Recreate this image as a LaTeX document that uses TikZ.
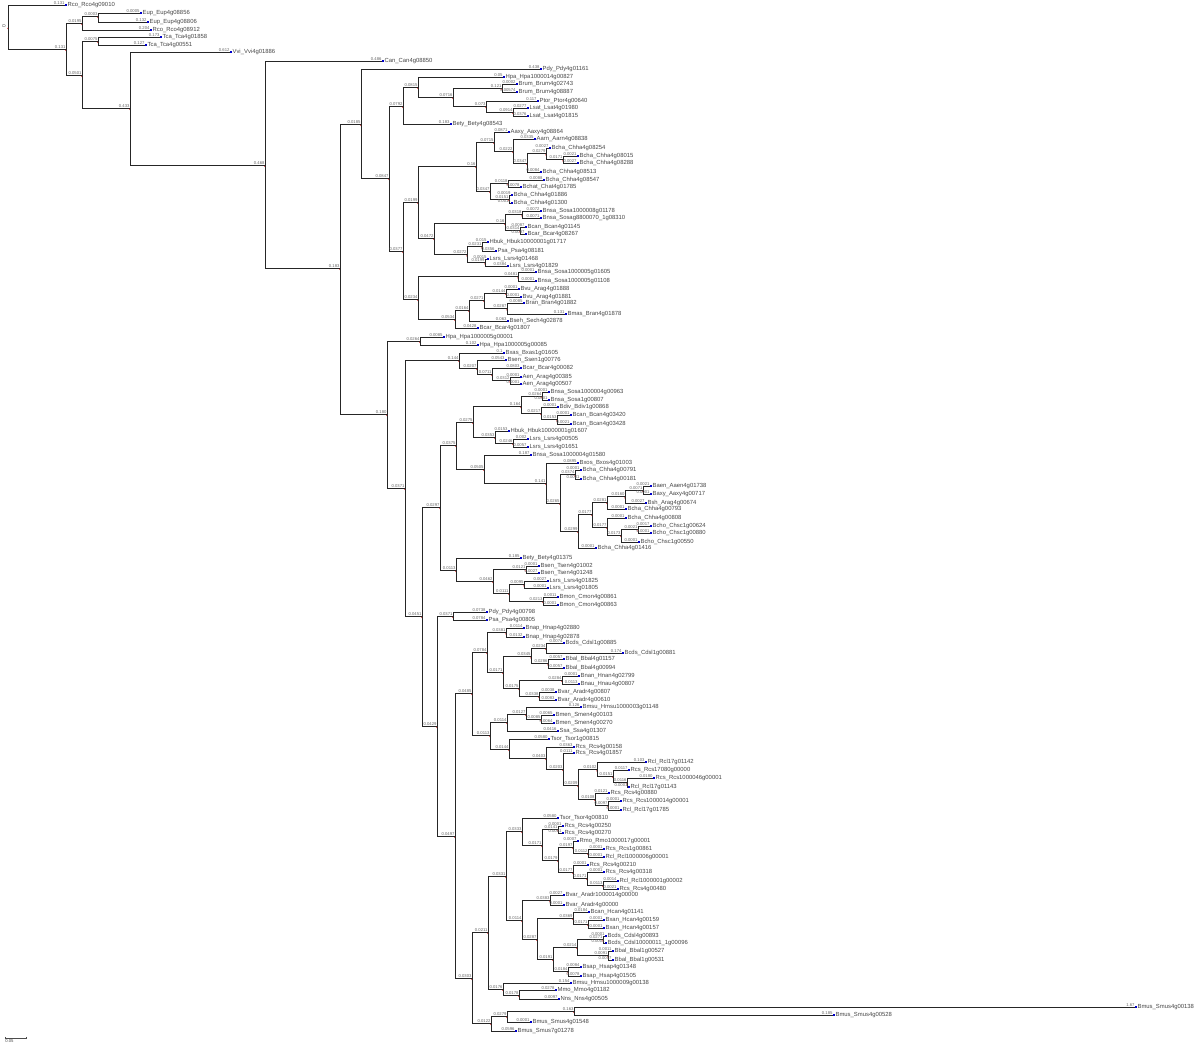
\documentclass[tikz,border=0pt]{standalone}
\usepackage{fontspec}
\setmainfont{Liberation Sans}
\tikzset{
  br/.style={line width=0.7pt,black!85},
  blen/.style={anchor=south east,inner sep=0.2pt,yshift=0.1pt,font=\fontsize{4.2}{4.4}\selectfont,text=black!60},
  lbl/.style={anchor=west,inner sep=0.2pt,xshift=2.2pt,font=\fontsize{5.9}{6.4}\selectfont,text=black!72},
  innode/.style={fill=red!85!black},
  leafmk/.style={fill=blue!80!black},
}
% internal node: parent, name, x, y, branch length
\newcommand\TrIn[5]{%
  \coordinate (#2) at (#3,#4);
  \draw[br] (#1) |- (#2) node[blen]{#5};
  \fill[innode] (#2) ++(0,1.3) circle[radius=0.75pt];
}
% leaf: parent, name, x, y, branch length, text
\newcommand\TrLf[6]{%
  \coordinate (#2) at (#3,#4);
  \draw[br] (#1) |- (#2) node[blen]{#5};
  \fill[leafmk] (#2) ++(0.2,-0.8) rectangle ++(1.6,1.6);
  \node[lbl] (#2t) at (#2) {\detokenize{#6}};
}
\begin{document}
\begin{tikzpicture}[x=1pt,y=-1pt]
\useasboundingbox (0,0) rectangle (1200,1048);
\coordinate (r) at (8,27);
\fill[innode] (r) ++(0,1.3) circle[radius=0.75pt];
\node[rotate=90,inner sep=0.2pt,font=\fontsize{5}{5}\selectfont,text=black!70] (r0) at (4,26) {0};
\TrLf{r}{L1}{65}{5}{0.131}{Rco_Rco4g09010}
\TrIn{r}{n66}{66}{49}{0.131}
\TrIn{n66}{n82a}{82}{23}{0.0195}
\TrIn{n82a}{n98a}{98}{16}{0.0003}
\TrLf{n98a}{L2}{140}{13}{0.0005}{Eup_Eup4g08856}
\TrLf{n98a}{L3}{147}{22}{0.132}{Eup_Eup4g08806}
\TrLf{n82a}{L4}{150}{30}{0.204}{Rco_Rco4g08912}
\TrIn{n66}{n82b}{82}{75}{0.0501}
\TrIn{n82b}{n98b}{98}{41}{0.0075}
\TrLf{n98b}{L5}{160}{37}{0.173}{Tca_Tca4g01858}
\TrLf{n98b}{L6}{145}{45}{0.127}{Tca_Tca4g00551}
\TrIn{n82b}{n130}{130}{108}{0.433}
\TrLf{n130}{L7}{230}{52}{0.612}{Vvi_Vvi4g01886}
\TrIn{n130}{n265}{265}{165}{0.468}
\TrLf{n265}{L8}{382}{61}{0.486}{Can_Can4g08850}
\TrIn{n265}{n340}{340}{268}{0.183}
\TrIn{n340}{n361}{361}{124}{0.0185}
\TrLf{n361}{L9}{540}{69}{0.438}{Pdy_Pdy4g01161}
\TrIn{n361}{n389}{389}{178}{0.0847}
\TrIn{n389}{n403}{403}{106}{0.0792}
\TrIn{n403}{n418}{418}{87}{0.0815}
\TrLf{n418}{L10}{503}{77}{0.05}{Hpa_Hpa1000014g00827}
\TrIn{n418}{n453}{453}{97}{0.0716}
\TrIn{n453}{n502}{502}{88}{0.121}
\TrLf{n502}{L11}{516}{84}{0.0002}{Brum_Brum4g02743}
\TrLf{n502}{L12}{516}{92}{0.00574}{Brum_Brum4g08887}
\TrIn{n453}{n486}{486}{106}{0.073}
\TrLf{n486}{L13}{537}{101}{0.117}{Ptor_Ptor4g00640}
\TrIn{n486}{n513}{513}{112}{0.0914}
\TrLf{n513}{L14}{527}{108}{0.0277}{Lsat_Lsat4g01980}
\TrLf{n513}{L15}{527}{116}{0.0376}{Lsat_Lsat4g01815}
\TrLf{n403}{L16}{450}{124}{0.183}{Bety_Bety4g08543}
\TrIn{n389}{n403b}{403}{251}{0.0377}
\TrIn{n403b}{n418b}{418}{202}{0.0199}
\TrIn{n418b}{n476}{476}{166}{0.16}
\TrIn{n476}{n494}{494}{142}{0.0715}
\TrLf{n494}{L17}{508}{132}{0.0871}{Aaxy_Aaxy4g08864}
\TrIn{n494}{n513b}{513}{151}{0.0222}
\TrLf{n513b}{L18}{534}{139}{0.0335}{Aarn_Aarn4g08838}
\TrIn{n513b}{n527}{527}{163}{0.0347}
\TrIn{n527}{n546}{546}{153.5}{0.0279}
\TrLf{n546}{L19}{549}{148}{0.0027}{Bcha_Chha4g08254}
\TrIn{n546}{n563}{563}{159.5}{0.0171}
\TrLf{n563}{L20}{577}{156}{0.0021}{Bcha_Chha4g08015}
\TrLf{n563}{L21}{577}{163}{0.0027}{Bcha_Chha4g08288}
\TrLf{n527}{L22}{540}{172}{0.0084}{Bcha_Chha4g08513}
\TrIn{n476}{n490}{490}{191}{0.0347}
\TrIn{n490}{n508}{508}{183}{0.0118}
\TrLf{n508}{L23}{543}{180}{0.0088}{Bcha_Chha4g08547}
\TrLf{n508}{L24}{520}{187}{0.0078}{Bchat_Chat4g01785}
\TrIn{n490}{n509}{509}{199}{0.0151}
\TrLf{n509}{L25}{511}{195}{0.0019}{Bcha_Chha4g01886}
\TrLf{n509}{L26}{511}{203}{0.0011}{Bcha_Chha4g01300}
\TrIn{n418b}{n434}{434}{238}{0.0472}
\TrIn{n434}{n505}{505}{223}{0.16}
\TrIn{n505}{n522}{522}{214.5}{0.0318}
\TrLf{n522}{L27}{540}{211}{0.0072}{Bnsa_Sosa1000008g01178}
\TrLf{n522}{L28}{540}{218}{0.0071}{Bnsa_Sosag8800070_1g08310}
\TrIn{n505}{n520}{520}{230.5}{0.0314}
\TrLf{n520}{L29}{525}{227}{0.0087}{Bcan_Bcan4g01145}
\TrLf{n520}{L30}{525}{234}{0.0097}{Bcar_Bcar4g08267}
\TrIn{n434}{n467}{467}{254.5}{0.0272}
\TrIn{n467}{n482}{482}{246.5}{0.0231}
\TrLf{n482}{L31}{487}{242}{0.015}{Hbuk_Hbuk10000001g01717}
\TrLf{n482}{L32}{495}{251}{0.0356}{Psa_Psa4g08181}
\TrIn{n467}{n485}{485}{262.5}{0.0199}
\TrLf{n485}{L33}{487}{259}{0.0015}{Lsrs_Lsrs4g01468}
\TrLf{n485}{L34}{507}{266}{0.0384}{Lsrs_Lsrs4g01829}
\TrIn{n403b}{n418c}{418}{299}{0.0234}
\TrIn{n418c}{n518}{518}{276.5}{0.0481}
\TrLf{n518}{L35}{535}{272}{0.0001}{Bnsa_Sosa1000005g01605}
\TrLf{n518}{L36}{535}{281}{0.0001}{Bnsa_Sosa1000005g01108}
\TrIn{n418c}{n455}{455}{319}{0.0534}
\TrIn{n455}{n469}{469}{310}{0.0164}
\TrIn{n469}{n484}{484}{300}{0.0271}
\TrIn{n484}{n506}{506}{293}{0.0144}
\TrLf{n506}{L37}{518}{289}{0.0001}{Bvu_Arag4g01888}
\TrLf{n506}{L38}{520}{297}{0.0001}{Bvu_Arag4g01881}
\TrIn{n484}{n507}{507}{308.5}{0.0287}
\TrLf{n507}{L39}{523}{303}{0.0085}{Bran_Bran4g01882}
\TrLf{n507}{L40}{565}{314}{0.131}{Bmas_Bran4g01878}
\TrLf{n469}{L41}{507}{321}{0.063}{Bseh_Sech4g02878}
\TrLf{n455}{L42}{477}{328}{0.0428}{Bcar_Bcar4g01807}
\TrIn{n340}{n387}{387}{414}{0.180}
\TrIn{n387}{n420}{420}{341}{0.0264}
\TrLf{n420}{L43}{443}{337}{0.0085}{Hpa_Hpa1000005g00001}
\TrLf{n420}{L44}{477}{345}{0.102}{Hpa_Hpa1000005g00085}
\TrIn{n387}{n405}{405}{488}{0.0371}
\TrIn{n405}{n459}{459}{360}{0.144}
\TrLf{n459}{L45}{503}{353}{0.1}{Bxas_Bxas1g01605}
\TrIn{n459}{n477}{477}{368}{0.0207}
\TrLf{n477}{L46}{505}{360}{0.0543}{Bsen_Ssen1g00776}
\TrIn{n477}{n492}{492}{374}{0.0711}
\TrLf{n492}{L47}{520}{368}{0.0803}{Bcar_Bcar4g00082}
\TrIn{n492}{n510}{510}{380.5}{0.0312}
\TrLf{n510}{L48}{520}{377}{0.0001}{Aen_Arag4g00385}
\TrLf{n510}{L49}{520}{384}{0.0001}{Aen_Arag4g00507}
\TrIn{n405}{n422}{422}{616}{0.0451}
\TrIn{n422}{n440}{440}{507}{0.0297}
\TrIn{n440}{n456a}{456}{445}{0.0375}
\TrIn{n456a}{n473}{473}{422}{0.0275}
\TrIn{n473}{n521}{521}{406}{0.164}
\TrIn{n521}{n542}{542}{396}{0.0264}
\TrLf{n542}{L50}{548}{392}{0.0001}{Bnsa_Sosa1000004g00963}
\TrLf{n542}{L51}{548}{400}{0.0001}{Bnsa_Sosa1g00807}
\TrIn{n521}{n541}{541}{413}{0.0217}
\TrLf{n541}{L52}{557}{407}{0.0001}{Bdiv_Bdiv1g00868}
\TrIn{n541}{n557}{557}{419.5}{0.0153}
\TrLf{n557}{L53}{570}{415}{0.0001}{Bcan_Bcan4g03420}
\TrLf{n557}{L54}{570}{424}{0.0021}{Bcan_Bcan4g03428}
\TrIn{n473}{n495}{495}{437}{0.0353}
\TrLf{n495}{L55}{508}{431}{0.0153}{Hbuk_Hbuk10000001g01607}
\TrIn{n495}{n513c}{513}{443}{0.0246}
\TrLf{n513c}{L56}{527}{439}{0.002}{Lsrs_Lsrs4g00505}
\TrLf{n513c}{L57}{527}{447}{0.0057}{Lsrs_Lsrs4g01651}
\TrIn{n456a}{n484b}{484}{469}{0.0505}
\TrLf{n484b}{L58}{530}{455}{0.187}{Bnsa_Sosa1000004g01580}
\TrIn{n484b}{n546b}{546}{483}{0.141}
\TrLf{n546b}{L59}{577}{463}{0.0895}{Bxos_Bxos4g01003}
\TrIn{n546b}{n560}{560}{503}{0.0265}
\TrIn{n560}{n575}{575}{474.5}{0.0374}
\TrLf{n575}{L60}{580}{470}{0.0001}{Bcha_Chha4g00791}
\TrLf{n575}{L61}{580}{479}{0.0001}{Bcha_Chha4g00181}
\TrIn{n560}{n578}{578}{531}{0.0299}
\TrIn{n578}{n592}{592}{514}{0.0177}
\TrIn{n592}{n607}{607}{502}{0.0281}
\TrIn{n607}{n625}{625}{496.5}{0.0160}
\TrIn{n625}{n643}{643}{490}{0.0071}
\TrLf{n643}{L62}{650}{486}{0.0021}{Baen_Aaen4g01738}
\TrLf{n643}{L63}{650}{494}{0.0001}{Baxy_Aaxy4g00717}
\TrLf{n625}{L64}{645}{503}{0.0027}{Bsh_Arag4g00674}
\TrLf{n607}{L65}{625}{509}{0.0001}{Bcha_Chha4g00793}
\TrIn{n592}{n607b}{607}{527}{0.0177}
\TrLf{n607b}{L66}{625}{518}{0.0001}{Bcha_Chha4g00808}
\TrIn{n607b}{n621}{621}{535}{0.0173}
\TrIn{n621}{n638}{638}{529.5}{0.0021}
\TrLf{n638}{L67}{650}{526}{0.0017}{Bcho_Chsc1g00624}
\TrLf{n638}{L68}{650}{533}{0.0001}{Bcho_Chsc1g00880}
\TrLf{n621}{L69}{638}{542}{0.0001}{Bcho_Chsc1g00550}
\TrLf{n578}{L70}{595}{548}{0.0001}{Bcha_Chha4g01416}
\TrIn{n440}{n456b}{456}{570}{0.0113}
\TrLf{n456b}{L71}{520}{558}{0.185}{Bety_Bety4g01375}
\TrIn{n456b}{n493}{493}{581}{0.0462}
\TrIn{n493}{n526}{526}{569.5}{0.0121}
\TrLf{n526}{L72}{538}{566}{0.0001}{Bsen_Tsen4g01002}
\TrLf{n526}{L73}{538}{573}{0.0027}{Bsen_Tsen4g01248}
\TrIn{n493}{n509b}{509}{593}{0.0111}
\TrIn{n509b}{n524}{524}{584.5}{0.0095}
\TrLf{n524}{L74}{547}{581}{0.0027}{Lsrs_Lsrs4g01825}
\TrLf{n524}{L75}{547}{588}{0.0001}{Lsrs_Lsrs4g01805}
\TrIn{n509b}{n543}{543}{601}{0.0213}
\TrLf{n543}{L76}{557}{597}{0.0011}{Bmon_Cmon4g00861}
\TrLf{n543}{L77}{557}{605}{0.0001}{Bmon_Cmon4g00863}
\TrIn{n422}{n437}{437}{726}{0.0429}
\TrIn{n437}{n453b}{453}{616}{0.0371}
\TrLf{n453b}{L78}{486}{612}{0.0738}{Pdy_Pdy4g00798}
\TrLf{n453b}{L79}{486}{620}{0.0784}{Psa_Psa4g00805}
\TrIn{n437}{n455b}{455}{836}{0.0497}
\TrIn{n455b}{n472}{472}{693}{0.0485}
\TrIn{n472}{n487}{487}{652}{0.0784}
\TrIn{n487}{n506b}{506}{632.5}{0.0381}
\TrLf{n506b}{L80}{523}{628}{0.0114}{Bnap_Hnap4g02880}
\TrLf{n506b}{L81}{523}{637}{0.0132}{Bnap_Hnap4g02878}
\TrIn{n487}{n503}{503}{672}{0.0171}
\TrIn{n503}{n531}{531}{656.5}{0.0345}
\TrIn{n531}{n546c}{546}{648}{0.0234}
\TrLf{n546c}{L82}{563}{643}{0.0074}{Bcds_Cdsl1g00885}
\TrLf{n546c}{L83}{622}{653}{0.174}{Bcds_Cdsl1g00881}
\TrIn{n531}{n548}{548}{663.5}{0.0286}
\TrLf{n548}{L84}{563}{659}{0.0057}{Bbal_Bbal4g01157}
\TrLf{n548}{L85}{563}{668}{0.0057}{Bbal_Bbal4g00994}
\TrIn{n503}{n519}{519}{688}{0.0175}
\TrIn{n519}{n562}{562}{680}{0.0284}
\TrLf{n562}{L86}{578}{676}{0.0001}{Bnan_Hnan4g02799}
\TrLf{n562}{L87}{578}{684}{0.0113}{Bnau_Hnau4g00807}
\TrIn{n519}{n539}{539}{696}{0.0338}
\TrLf{n539}{L88}{555}{692}{0.0038}{Bvar_Aradr4g00807}
\TrLf{n539}{L89}{555}{700}{0.0083}{Bvar_Aradr4g00610}
\TrIn{n472}{n490b}{490}{735}{0.0113}
\TrIn{n490b}{n507b}{507}{722}{0.0114}
\TrIn{n507b}{n526b}{526}{714}{0.0127}
\TrLf{n526b}{L90}{580}{707}{0.126}{Bmsu_Hmsu1000003g01148}
\TrIn{n526b}{n541b}{541}{719}{0.0085}
\TrLf{n541b}{L91}{553}{715}{0.0065}{Bmen_Smen4g00103}
\TrLf{n541b}{L92}{553}{723}{0.0064}{Bmen_Smen4g00270}
\TrLf{n507b}{L93}{557}{731}{0.0416}{Ssa_Ssa4g01307}
\TrIn{n490b}{n509c}{509}{749}{0.0144}
\TrLf{n509c}{L94}{548}{739}{0.0580}{Tsor_Tsor1g00815}
\TrIn{n509c}{n546d}{546}{758}{0.0403}
\TrLf{n546d}{L95}{573}{747}{0.0363}{Rcs_Rcs4g00158}
\TrIn{n546d}{n563b}{563}{769}{0.0203}
\TrLf{n563b}{L96}{573}{753}{0.0111}{Rcs_Rcs4g01857}
\TrIn{n563b}{n578b}{578}{785}{0.0209}
\TrIn{n578b}{n597}{597}{769.5}{0.0102}
\TrLf{n597}{L97}{645}{762}{0.103}{Rcl_Rcl17g01142}
\TrIn{n597}{n613}{613}{776}{0.0151}
\TrLf{n613}{L98}{628}{770}{0.0117}{Rcs_Rcs17080g00000}
\TrIn{n613}{n627}{627}{782.5}{0.0116}
\TrLf{n627}{L99}{653}{778}{0.0180}{Rcs_Rcs1000046g00001}
\TrLf{n627}{L100}{628}{787}{0.0001}{Rcl_Rcl17g01143}
\TrIn{n578b}{n595}{595}{799}{0.0108}
\TrLf{n595}{L101}{608}{793}{0.0121}{Rcs_Rcs4g00880}
\TrIn{n595}{n608}{608}{805.5}{0.0097}
\TrLf{n608}{L102}{620}{801}{0.0001}{Rcs_Rcs1000014g00001}
\TrLf{n608}{L103}{620}{810}{0.0001}{Rcl_Rcl17g01785}
\TrIn{n455b}{n472b}{472}{978}{0.0303}
\TrIn{n472b}{n488}{488}{932}{0.0211}
\TrIn{n488}{n506c}{506}{876}{0.0331}
\TrIn{n506c}{n522a}{522}{831}{0.0333}
\TrLf{n522a}{L104}{557}{818}{0.0580}{Tsor_Tsor4g00810}
\TrIn{n522a}{n542x}{542}{845}{0.0171}
\TrIn{n542x}{n558a}{558}{829.5}{0.0141}
\TrLf{n558a}{L105}{562}{826}{0.0001}{Rcs_Rcs4g00250}
\TrLf{n558a}{L106}{562}{833}{0.0001}{Rcs_Rcs4g00270}
\TrIn{n542x}{n558b}{558}{860}{0.0179}
\TrIn{n558b}{n573a}{573}{847}{0.0197}
\TrLf{n573a}{L107}{577}{841}{0.0007}{Rmo_Rmo1000017g00001}
\TrIn{n573a}{n588a}{588}{853}{0.0112}
\TrLf{n588a}{L108}{603}{849}{0.0001}{Rcs_Rcs1g00861}
\TrLf{n588a}{L109}{603}{857}{0.0001}{Rcl_Rcl1000006g00001}
\TrIn{n558b}{n573b}{573}{872}{0.0177}
\TrLf{n573b}{L110}{587}{865}{0.0001}{Rcs_Rcs4g00210}
\TrIn{n573b}{n587}{587}{878}{0.0171}
\TrLf{n587}{L111}{603}{872}{0.0001}{Rcs_Rcs4g00318}
\TrIn{n587}{n603a}{603}{885}{0.0113}
\TrLf{n603a}{L112}{617}{881}{0.0014}{Rcl_Rcl1000001g00002}
\TrLf{n603a}{L113}{617}{889}{0.0021}{Rcs_Rcs4g00480}
\TrIn{n506c}{n522c}{522}{920}{0.0114}
\TrIn{n522c}{n550}{550}{900}{0.0383}
\TrLf{n550}{L114}{563}{895}{0.0027}{Bvar_Aradr1000014g00000}
\TrLf{n550}{L115}{563}{905}{0.0001}{Bvar_Aradr4g00000}
\TrIn{n522c}{n537}{537}{939}{0.0287}
\TrIn{n537}{n573c}{573}{918}{0.0369}
\TrLf{n573c}{L116}{588}{912}{0.0184}{Bcan_Hcan4g01141}
\TrIn{n573c}{n588b}{588}{924}{0.0171}
\TrLf{n588b}{L117}{603}{920}{0.0001}{Bxan_Hcan4g00159}
\TrLf{n588b}{L118}{603}{928}{0.0001}{Bxan_Hcan4g00157}
\TrIn{n537}{n553}{553}{959}{0.0191}
\TrIn{n553}{n577}{577}{947}{0.0214}
\TrIn{n577}{n603b}{603}{939.5}{0.0271}
\TrLf{n603b}{L119}{605}{936}{0.0001}{Bcds_Cdsl4g00893}
\TrLf{n603b}{L120}{605}{943}{0.0001}{Bcds_Cdsl10000011_1g00096}
\TrIn{n577}{n608b}{608}{955.5}{0.0091}
\TrLf{n608b}{L121}{612}{951}{0.0011}{Bbal_Bbal1g00527}
\TrLf{n608b}{L122}{612}{960}{0.0017}{Bbal_Bbal1g00531}
\TrIn{n553}{n568}{568}{971.5}{0.0184}
\TrLf{n568}{L123}{580}{967}{0.0084}{Bsap_Hsap4g01348}
\TrLf{n568}{L124}{580}{976}{0.0078}{Bsap_Hsap4g01505}
\TrIn{n488}{n503b}{503}{989}{0.0176}
\TrLf{n503b}{L125}{570}{983}{0.154}{Bmsu_Hmsu1000009g00138}
\TrIn{n503b}{n519b}{519}{995}{0.0178}
\TrLf{n519b}{L126}{555}{990}{0.0278}{Mmo_Mmo4g01182}
\TrLf{n519b}{L127}{558}{999}{0.0097}{Nns_Nns4g00505}
\TrIn{n472b}{n491}{491}{1023}{0.0122}
\TrIn{n491}{n507d}{507}{1016}{0.0279}
\TrIn{n507d}{n574}{574}{1011}{0.163}
\TrLf{n574}{L128}{1135}{1007}{1.67}{Bmus_Smus4g00138}
\TrLf{n574}{L129}{833}{1015}{0.185}{Bmus_Smus4g00528}
\TrLf{n507d}{L130}{530}{1022}{0.0001}{Bmus_Smus4g01548}
\TrLf{n491}{L131}{515}{1031}{0.0596}{Bmus_Smus7g01278}
% scale bar
\coordinate (sb1) at (5,1038);
\coordinate (sb2) at (26,1038);
\draw[line width=0.4pt,black!70] (sb1) -- (sb2);
\draw[line width=0.4pt,black!70] (sb1) ++(0,-1.2) -- ++(0,2.4);
\draw[line width=0.4pt,black!70] (sb2) ++(0,-1.2) -- ++(0,2.4);
\node[anchor=north west,inner sep=0.2pt,font=\fontsize{4.2}{4.4}\selectfont,text=black!70] (sbl) at ([yshift=-1.6pt]sb1) {0.05};
\end{tikzpicture}
\end{document}
